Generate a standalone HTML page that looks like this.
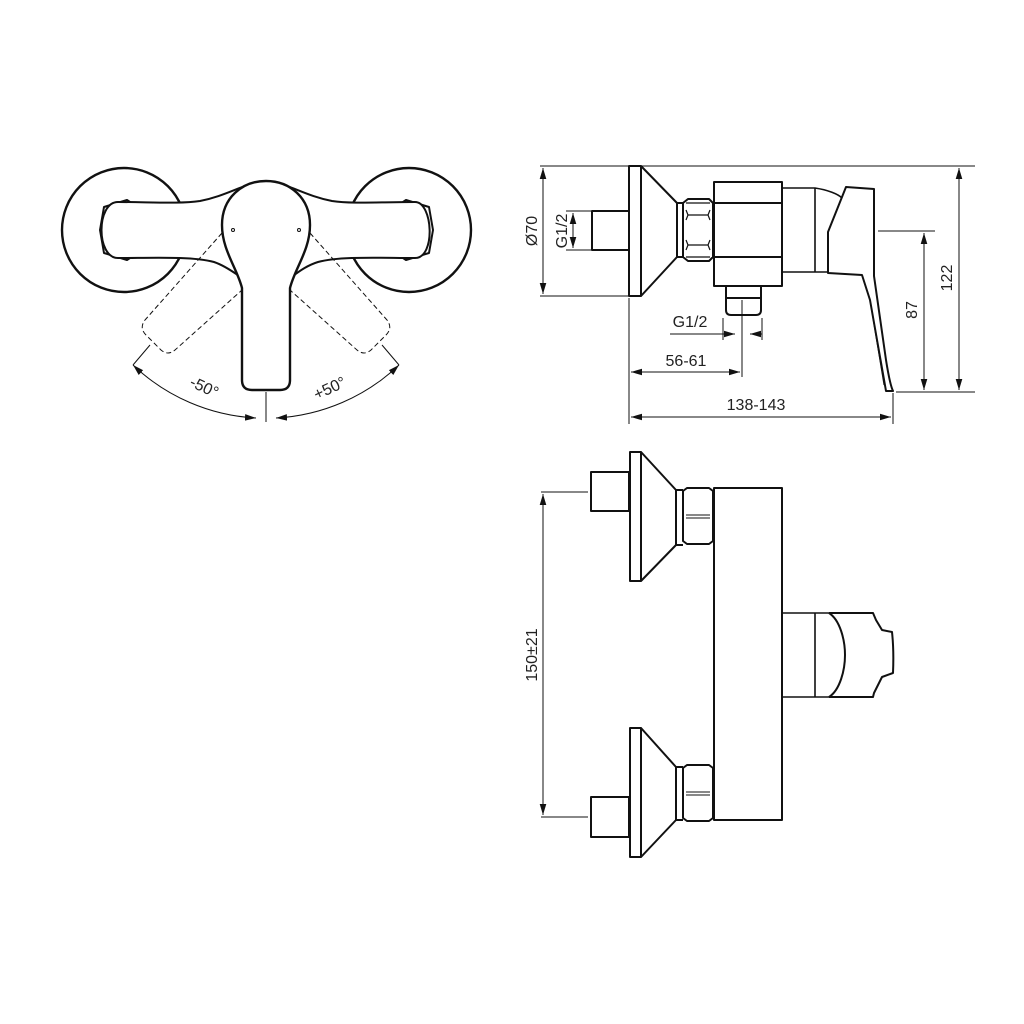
<!DOCTYPE html>
<html><head><meta charset="utf-8"><style>
html,body{margin:0;padding:0;background:#fff}
svg{display:block}
text{font-family:"Liberation Sans",sans-serif;fill:#222}
</style></head><body>
<svg width="1024" height="1024" viewBox="0 0 1024 1024" xmlns="http://www.w3.org/2000/svg">
<defs>
<marker id="a" viewBox="0 0 10 6" refX="10" refY="3" markerWidth="11" markerHeight="7" markerUnits="userSpaceOnUse" orient="auto-start-reverse"><path d="M0,0L10,3L0,6z" fill="#111"/></marker>
</defs>
<g fill="none" stroke="#111" stroke-width="2" stroke-linejoin="round">
<!-- TOP VIEW -->
<circle cx="124" cy="230" r="62" stroke-width="2.4"/>
<circle cx="409" cy="230" r="62" stroke-width="2.4"/>
<path d="M104,207 L127,200 L133,204 L133,256 L127,260 L104,253 L100,230Z" fill="#fff"/>
<path d="M429,207 L406,200 L400,204 L400,256 L406,260 L429,253 L433,230Z" fill="#fff"/>
<path d="M118,202 C150,202 180,204 200,201 C230,195 245,182 266,182 C287,182 302,195 332,201 C352,204 380,202 415,202 C433,202 436,258 415,258 C380,258 340,256 318,262 C305,266 296,274 290,278 L242,278 C236,274 226,266 214,262 C192,256 150,258 118,258 C96,258 96,202 118,202Z" fill="#fff"/>
<path d="M266,181 C242,181 222,198 222,225 C222,250 237,268 242,288 L242,380 Q242,390 252,390 L280,390 Q290,390 290,380 L290,288 C295,268 310,250 310,225 C310,198 290,181 266,181Z" fill="#fff" stroke-width="2.4"/>
<circle cx="233" cy="230" r="1.5" stroke-width="1"/>
<circle cx="299" cy="230" r="1.5" stroke-width="1"/>
<g stroke-dasharray="5,3" stroke-width="1">
<path d="M222,233 L145,320 Q139,328 146,335 L161,350 Q168,356 175,350 L242,290"/>
<path d="M310,233 L387,320 Q393,328 386,335 L371,350 Q364,356 357,350 L290,290"/>
</g>
<g stroke-width="1">
<path d="M150,345 L133,365"/><path d="M382,345 L399,365"/>
<path d="M266,392 L266,422"/>
<path d="M133,365 A193,193 0 0 0 256,418" marker-start="url(#a)" marker-end="url(#a)"/>
<path d="M399,365 A193,193 0 0 1 276,418" marker-start="url(#a)" marker-end="url(#a)"/>
</g>
<!-- SIDE VIEW -->
<rect x="592" y="211" width="37" height="39"/>
<rect x="629" y="166" width="12" height="130"/>
<path d="M641,166 L677,203 L677,257 L641,296"/>
<path d="M677,203 L683,203 L683,257 L677,257"/>
<path d="M683,203 L688,199 L709,199 L713,203 L713,257 L709,261 L688,261 L683,257Z"/>
<path d="M686,203 L710,203 M686,257 L710,257 M688,215 L708,215 M688,245 L708,245 M686,210 L688,215 L686,220 M710,210 L708,215 L710,220 M686,240 L688,245 L686,250 M710,240 L708,245 L710,250" stroke-width="1.2"/>
<rect x="714" y="182" width="68" height="104"/>
<path d="M714,203 L782,203 M714,257 L782,257"/>
<path d="M726,286 L726,310 Q726,315 731,315 L756,315 Q761,315 761,310 L761,286 M726,298 L761,298"/>
<path d="M782,188 L815,188 C828,190 838,194 842,198 M782,272 L828,272 M815,188 L815,272" stroke-width="1.6"/>
<path d="M846,187 L874,189 L874,276 L886,360 Q890,385 893,391 L886,391 L870,300 L862,275 L828,273 L828,232 Z"/>
<path d="M870,300 L884,385" stroke-width="1"/>
<g stroke-width="1">
<path d="M540,166 L629 166 M641,166 L975,166"/>
<path d="M540,296 L629,296"/>
<path d="M543,168 L543,294" marker-start="url(#a)" marker-end="url(#a)"/>
<path d="M566,211 L592,211 M566,250 L592,250"/>
<path d="M573,213 L573,248" marker-start="url(#a)" marker-end="url(#a)"/>
<path d="M878,231 L935,231 M896,392 L975,392"/>
<path d="M924,233 L924,390" marker-start="url(#a)" marker-end="url(#a)"/>
<path d="M959,168 L959,390" marker-start="url(#a)" marker-end="url(#a)"/>
<path d="M723,318 L723,340 M762,318 L762,340 M742,300 L742,377"/>
<path d="M670,334 L735,334" marker-end="url(#a)"/>
<path d="M762,334 L750,334" marker-end="url(#a)"/>
<path d="M629,298 L629,424 M893,393 L893,424"/>
<path d="M631,372 L740,372" marker-start="url(#a)" marker-end="url(#a)"/>
<path d="M631,417 L891,417" marker-start="url(#a)" marker-end="url(#a)"/>
</g>
<!-- FRONT VIEW -->
<rect x="591" y="472" width="38" height="39"/>
<rect x="630" y="452" width="11" height="129"/>
<path d="M641,452 L676,490 L676,545 L641,581"/>
<path d="M676,490 L683,490 M676,545 L683,545"/>
<path d="M683,491 L687,488 L709,488 L713,491 L713,541 L709,544 L687,544 L683,541Z"/>
<path d="M686,515 L710,515 M686,518 L710,518" stroke-width="1"/>
<rect x="591" y="797" width="38" height="40"/>
<rect x="630" y="728" width="11" height="129"/>
<path d="M641,728 L676,767 L676,820 L641,857"/>
<path d="M676,767 L683,767 M676,820 L683,820"/>
<path d="M683,768 L687,765 L709,765 L713,768 L713,818 L709,821 L687,821 L683,818Z"/>
<path d="M686,792 L710,792 M686,795 L710,795" stroke-width="1"/>
<rect x="714" y="488" width="68" height="332"/>
<path d="M782,613 L829,613 M782,697 L829,697 M815,613 L815,697" stroke-width="1.6"/>
<path d="M829,613 C840,620 845,640 845,655 C845,670 840,690 829,697"/>
<path d="M829,613 L873,613 L876,620 L882,630 L892,632 Q894,650 893,673 L882,677 L874,693 L873,697 L829,697"/>
<g stroke-width="1">
<path d="M541,492 L588,492 M541,817 L588,817"/>
<path d="M543,494 L543,815" marker-start="url(#a)" marker-end="url(#a)"/>
</g>
</g>
<g font-size="16">
<text transform="translate(202,392) rotate(25)" text-anchor="middle">-50°</text>
<text transform="translate(332,393) rotate(-25)" text-anchor="middle">+50°</text>
<text transform="translate(537,231) rotate(-90)" text-anchor="middle">Ø70</text>
<text transform="translate(567,231) rotate(-90)" text-anchor="middle">G1/2</text>
<text x="690" y="327" text-anchor="middle">G1/2</text>
<text x="686" y="366" text-anchor="middle">56-61</text>
<text x="756" y="410" text-anchor="middle">138-143</text>
<text transform="translate(917,310) rotate(-90)" text-anchor="middle">87</text>
<text transform="translate(952,278) rotate(-90)" text-anchor="middle">122</text>
<text transform="translate(537,655) rotate(-90)" text-anchor="middle">150±21</text>
</g>
</svg>
</body></html>
